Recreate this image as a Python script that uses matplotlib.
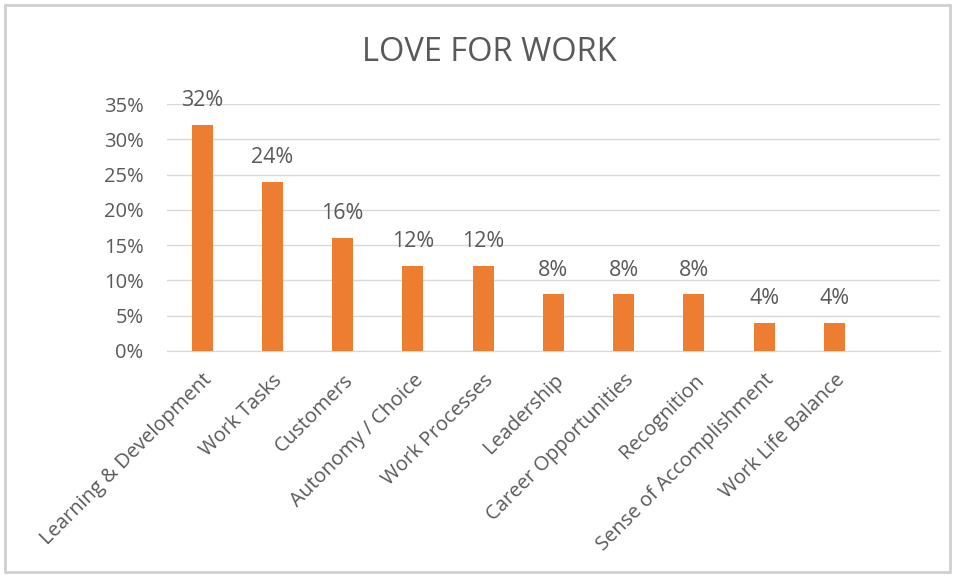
import matplotlib
matplotlib.use("Agg")
import matplotlib.pyplot as plt
from matplotlib.patches import Rectangle
import numpy as np

categories = ["Learning & Development", "Work Tasks", "Customers", "Autonomy / Choice",
              "Work Processes", "Leadership", "Career Opportunities", "Recognition",
              "Sense of Accomplishment", "Work Life Balance"]
shares = [0.32, 0.24, 0.16, 0.12, 0.12, 0.08, 0.08, 0.08, 0.04, 0.04]
y_ticks = [0, 0.05, 0.10, 0.15, 0.20, 0.25, 0.30, 0.35]

text_color = "#595959"
bar_color = "#ED7D31"
grid_color = "#D9D9D9"

plt.rcParams["font.family"] = ["Open Sans", "DejaVu Sans"]

fig = plt.figure(figsize=(9.55, 5.78), dpi=100)
fig.patches.append(Rectangle((0.005, 0.01), 0.99, 0.982, transform=fig.transFigure,
                             fill=False, edgecolor="#D0D0D0", linewidth=2))

ax = fig.add_axes([0.175, 0.393, 0.809, 0.427])
x = np.arange(len(categories))
bars = ax.bar(x, shares, width=0.3, color=bar_color, zorder=3)

for b, v in zip(bars, shares):
    ax.annotate("%d%%" % round(v * 100), (b.get_x() + b.get_width() / 2, v),
                xytext=(0, 10), textcoords="offset points", ha="center", va="bottom",
                fontsize=15.5, color=text_color)

ax.set_xlim(-0.5, len(categories) + 0.5)
ax.set_ylim(0, 0.35)
ax.set_yticks(y_ticks)
ax.set_yticklabels(["%d%%" % round(t * 100) for t in y_ticks], fontsize=14.5, color=text_color)
ax.set_xticks(x)
ax.set_xticklabels(categories, rotation=45, ha="right", rotation_mode="anchor",
                   fontsize=14.5, color=text_color)
ax.tick_params(axis="both", length=0)
ax.tick_params(axis="y", pad=17)
ax.tick_params(axis="x", pad=14)

ax.grid(axis="y", color=grid_color, linewidth=1, zorder=0)
for s in ["top", "right", "left"]:
    ax.spines[s].set_visible(False)
ax.spines["bottom"].set_color(grid_color)

fig.text(0.512, 0.91, "LOVE FOR WORK", ha="center", va="center", fontsize=23.5, color=text_color)

fig.savefig("out.png", dpi=100)
